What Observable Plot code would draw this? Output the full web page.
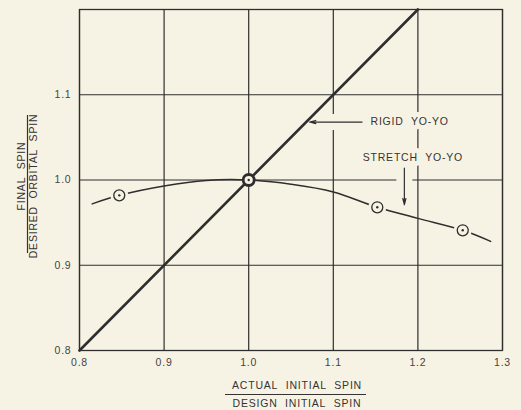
<!DOCTYPE html>
<html><head><meta charset="utf-8">
<script src="https://cdn.jsdelivr.net/npm/d3@7"></script>
<script src="https://cdn.jsdelivr.net/npm/@observablehq/plot@0.6"></script>
<style>body{margin:0;background:#f7f3e4}</style>
</head><body><div id="chart"></div>
<script>
const BG = "#f7f3e4";
const INK = "#2e2e2e";
const xTicks = [0.8, 0.9, 1.0, 1.1, 1.2, 1.3];
const yTicks = [0.8, 0.9, 1.0, 1.1];
const yGrid = [0.8, 0.9, 1.0, 1.1, 1.2];
const rigidX = [0.8, 1.2];
const rigidY = [0.8, 1.2];
const stretchX = [0.815, 0.847, 0.9, 0.95, 1.0, 1.05, 1.1, 1.152, 1.2, 1.253, 1.286];
const stretchY = [0.972, 0.982, 0.993, 0.9995, 1.0, 0.995, 0.986, 0.968, 0.955, 0.941, 0.928];
const markX = [0.847, 1.0, 1.152, 1.253];
const markY = [0.982, 1.0, 0.968, 0.941];
const markBold = [false, true, false, false];
const rigidLabel = {t: "RIGID\u00a0 YO-YO", x: 1.144, y: 1.068};
const stretchLabel = {t: "STRETCH\u00a0 YO-YO", x: 1.194, y: 1.026};
const arrowX1 = [1.134, 1.184], arrowY1 = [1.068, 1.014];
const arrowX2 = [1.072, 1.184], arrowY2 = [1.068, 0.971];
const xLabelTop = "ACTUAL\u00a0 INITIAL\u00a0 SPIN", xLabelBottom = "DESIGN\u00a0 INITIAL\u00a0 SPIN";
const yLabelTop = "FINAL\u00a0 SPIN", yLabelBottom = "DESIRED\u00a0 ORBITAL\u00a0 SPIN";

const rigid = rigidX.map((x, i) => ({x, y: rigidY[i]}));
const stretch = stretchX.map((x, i) => ({x, y: stretchY[i]}));
const marks = markX.map((x, i) => ({x, y: markY[i], bold: markBold[i]}));
const arrows = arrowX1.map((x1, i) => ({x1, y1: arrowY1[i], x2: arrowX2[i], y2: arrowY2[i]}));
const fmt = d3.format(".1f");
const txt = {x: "x", y: "y", text: "t", fill: "#333", fontSize: 10.5};

const chart = Plot.plot({
  width: 521, height: 410,
  marginLeft: 79, marginRight: 19, marginTop: 9, marginBottom: 60,
  style: {background: BG, fontFamily: "'Liberation Sans', Arial, sans-serif", fontSize: "10.5px", letterSpacing: "0.8px", color: "#444"},
  x: {domain: [0.8, 1.3]},
  y: {domain: [0.8, 1.2]},
  marks: [
    Plot.gridX(xTicks, {stroke: INK, strokeOpacity: 1, strokeWidth: 1.2}),
    Plot.gridY(yGrid, {stroke: INK, strokeOpacity: 1, strokeWidth: 1.2}),
    Plot.frame({stroke: INK, strokeWidth: 1.3}),
    Plot.axisX({ticks: xTicks, tickSize: 0, tickPadding: 8, tickFormat: fmt, label: null, fill: "#444"}),
    Plot.axisY({ticks: yTicks, tickSize: 0, tickPadding: 8, tickFormat: fmt, label: null, fill: "#444"}),
    // halos cutting gridlines around annotations
    Plot.arrow(arrows, {x1: "x1", y1: "y1", x2: "x2", y2: "y2", stroke: BG, strokeWidth: 16, headLength: 0, insetEnd: 9, insetStart: -2}),
    Plot.text([rigidLabel], {...txt, fill: BG, textAnchor: "start", stroke: BG, strokeWidth: 10}),
    Plot.text([stretchLabel], {...txt, fill: BG, textAnchor: "middle", stroke: BG, strokeWidth: 10}),
    Plot.line(rigid, {x: "x", y: "y", stroke: INK, strokeWidth: 2.6}),
    Plot.line(stretch, {x: "x", y: "y", stroke: INK, strokeWidth: 1.5, curve: "catmull-rom"}),
    Plot.dot(marks.filter(d => !d.bold), {x: "x", y: "y", r: 9, fill: BG, stroke: null}),
    Plot.dot(marks, {x: "x", y: "y", r: 5.5, fill: BG, stroke: INK, strokeWidth: d => d.bold ? 2.8 : 1.3}),
    Plot.dot(marks, {x: "x", y: "y", r: 1.2, fill: INK, stroke: null}),
    Plot.arrow(arrows, {x1: "x1", y1: "y1", x2: "x2", y2: "y2", stroke: INK, strokeWidth: 1.2, headLength: 8, headAngle: 28}),
    Plot.text([rigidLabel], {...txt, textAnchor: "start"}),
    Plot.text([stretchLabel], {...txt, textAnchor: "middle"})
  ]
});

// fraction-style axis labels
const svg = d3.select(chart);
const ink = "#333";
const xl = svg.append("g").attr("font-size", 10.5).attr("fill", ink).attr("text-anchor", "middle");
xl.append("text").attr("x", 297).attr("y", 389).text(xLabelTop);
xl.append("line").attr("x1", 225).attr("x2", 366).attr("y1", 394.5).attr("y2", 394.5).attr("stroke", ink).attr("stroke-width", 1.2);
xl.append("text").attr("x", 297).attr("y", 407).text(xLabelBottom);
const yl = svg.append("g").attr("font-size", 10.5).attr("fill", ink).attr("text-anchor", "middle");
yl.append("text").attr("transform", "translate(24.5,176) rotate(-90)").text(yLabelTop);
yl.append("line").attr("x1", 27.5).attr("x2", 27.5).attr("y1", 115).attr("y2", 253).attr("stroke", ink).attr("stroke-width", 1.2);
yl.append("text").attr("transform", "translate(37,186) rotate(-90)").text(yLabelBottom);

document.getElementById("chart").appendChild(chart);
</script>
</body></html>
